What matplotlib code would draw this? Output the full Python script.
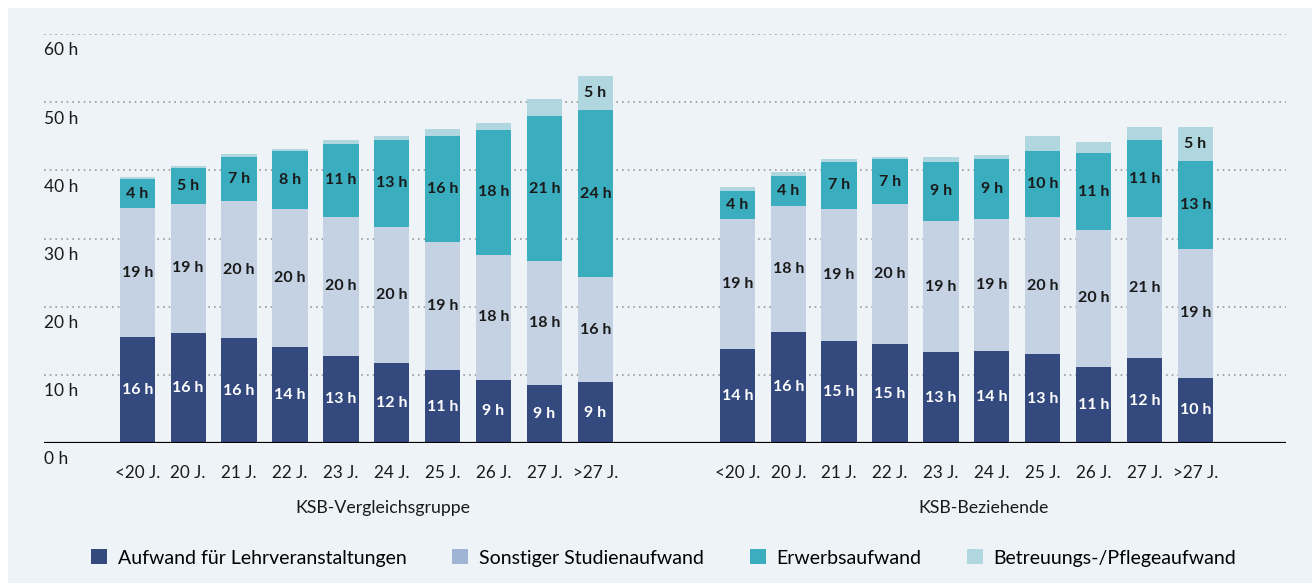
import numpy as np
import matplotlib
matplotlib.use("Agg")
import matplotlib.pyplot as plt
from matplotlib.patches import Patch, Rectangle
from matplotlib.transforms import blended_transform_factory, ScaledTranslation

plt.rcParams["font.family"] = ["Lato", "DejaVu Sans"]

ages = ["<20 J.", "20 J.", "21 J.", "22 J.", "23 J.", "24 J.", "25 J.", "26 J.", "27 J.", ">27 J."]
groups = ["KSB-Vergleichsgruppe", "KSB-Beziehende"]
series = ["Aufwand für Lehrveranstaltungen", "Sonstiger Studienaufwand",
          "Erwerbsaufwand", "Betreuungs-/Pflegeaufwand"]

# Balkenhoehen (Stunden)
left_lehr = [15.5, 16.2, 15.4, 14.1, 12.8, 11.7, 10.7, 9.3, 8.5, 8.9]
left_sonst = [19.0, 18.9, 20.1, 20.3, 20.4, 20.0, 18.8, 18.3, 18.2, 15.5]
left_erwerb = [4.2, 5.2, 6.5, 8.4, 10.7, 12.8, 15.6, 18.3, 21.2, 24.4]
left_betreu = [0.3, 0.3, 0.4, 0.4, 0.6, 0.6, 0.9, 1.1, 2.5, 5.0]

right_lehr = [13.8, 16.3, 15.0, 14.5, 13.3, 13.5, 13.0, 11.2, 12.4, 9.6]
right_sonst = [19.1, 18.5, 19.4, 20.5, 19.3, 19.3, 20.1, 20.0, 20.8, 18.9]
right_erwerb = [4.1, 4.4, 6.8, 6.6, 8.6, 8.9, 9.8, 11.3, 11.2, 12.8]
right_betreu = [0.6, 0.5, 0.5, 0.4, 0.8, 0.6, 2.1, 1.6, 1.9, 5.1]

# Beschriftungen (gerundete Werte), None = keine Beschriftung
left_lehr_lab = [16, 16, 16, 14, 13, 12, 11, 9, 9, 9]
left_sonst_lab = [19, 19, 20, 20, 20, 20, 19, 18, 18, 16]
left_erwerb_lab = [4, 5, 7, 8, 11, 13, 16, 18, 21, 24]
left_betreu_lab = [None] * 9 + [5]

right_lehr_lab = [14, 16, 15, 15, 13, 14, 13, 11, 12, 10]
right_sonst_lab = [19, 18, 19, 20, 19, 19, 20, 20, 21, 19]
right_erwerb_lab = [4, 4, 7, 7, 9, 9, 10, 11, 11, 13]
right_betreu_lab = [None] * 9 + [5]

yticks = [0, 10, 20, 30, 40, 50, 60]

COLORS = ["#344a7e", "#c5d2e3", "#3aadbf", "#b0d6df"]
LEG_COLORS = ["#344a7e", "#a0b4d4", "#3aadbf", "#b0d6df"]
TXT = ["white", "#1a1a1a", "#1a1a1a", "#1a1a1a"]
BG = "#eef3f7"
GAP = 2.79
W = 0.694

fig = plt.figure(figsize=(13.12, 5.83), dpi=100)
fig.patches.append(Rectangle((8 / 1312, 0), 1, 1 - 8 / 583, transform=fig.transFigure,
                             facecolor=BG, edgecolor="none", zorder=-10))
ax = fig.add_axes([44 / 1312, 1 - 443 / 583, (1286 - 44) / 1312, (443 - 34) / 583])
ax.set_facecolor("none")

n = len(ages)
xl = np.arange(n)
xr = np.arange(n) + (n - 1) + GAP
data = [(xl, [left_lehr, left_sonst, left_erwerb, left_betreu],
         [left_lehr_lab, left_sonst_lab, left_erwerb_lab, left_betreu_lab]),
        (xr, [right_lehr, right_sonst, right_erwerb, right_betreu],
         [right_lehr_lab, right_sonst_lab, right_erwerb_lab, right_betreu_lab])]

for x, vals, labs in data:
    bottom = np.zeros(n)
    for k, (v, lab) in enumerate(zip(vals, labs)):
        v = np.array(v)
        ax.bar(x, v, W, bottom=bottom, color=COLORS[k], zorder=3, linewidth=0)
        for i in range(n):
            if lab[i] is not None:
                ax.text(x[i], bottom[i] + v[i] / 2, f"{lab[i]} h", ha="center", va="center",
                        color=TXT[k], fontsize=11.5, fontweight="bold", zorder=4)
        bottom += v

ax.set_xlim(-1.833, 22.57)
ax.set_ylim(0, 60)
for s in ax.spines.values():
    s.set_visible(False)
ax.set_yticks([])
for v in yticks[1:]:
    ax.axhline(v, color="#9a9a9a", lw=1.2, ls=(0, (1, 2.4)), zorder=1)
ax.axhline(0, color="black", lw=1.6, zorder=5)

off = ScaledTranslation(0, -6 / 72, fig.dpi_scale_trans)
trans_y = blended_transform_factory(ax.transAxes, ax.transData) + off
for v in yticks:
    ax.text(0, v, f"{v} h", transform=trans_y, ha="left", va="top", fontsize=12.5, color="#1a1a1a")

ax.set_xticks(np.concatenate([xl, xr]), ages + ages)
ax.tick_params(axis="x", length=0, pad=16, labelsize=12.3, labelcolor="#1a1a1a")

trans_g = blended_transform_factory(ax.transData, ax.transAxes)
for x, g in zip([xl, xr], groups):
    ax.text(x.mean() + 0.33, -0.159, g, transform=trans_g, ha="center", va="center",
            fontsize=12.8, color="#1a1a1a")

handles = [Patch(facecolor=c, edgecolor="none") for c in LEG_COLORS]
fig.legend(handles, series, loc="center", bbox_to_anchor=(0.506, 1 - 558 / 583), ncol=4,
           frameon=False, fontsize=14, handlelength=0.82, handleheight=0.82,
           handletextpad=0.55, columnspacing=2.35)

fig.savefig("out.png", dpi=100, facecolor="white")
